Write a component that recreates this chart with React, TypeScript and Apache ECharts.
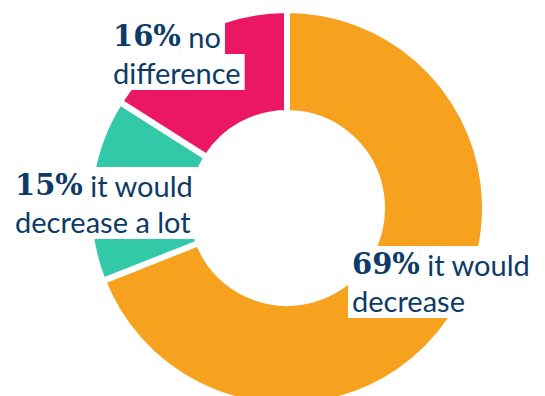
import React, { useEffect, useRef } from "react";
import * as echarts from "echarts";

const categories = ["it would decrease", "it would decrease a lot", "no difference"];
const values = [69, 15, 16];
const labelLine1 = ["it would", "it would", "no"];
const labelLine2 = ["decrease", "decrease a lot", "difference"];
const colors = ["#f7a21e", "#31c9a7", "#ec1763"];
const labelPos = [
  [348, 246],
  [11, 167],
  [109, 18],
];

export default function App() {
  const ref = useRef<HTMLDivElement>(null);
  useEffect(() => {
    if (!ref.current) return;
    const chart = echarts.init(ref.current, null, { renderer: "svg" });
    const navy = "#0d3b68";
    const base = {
      fontFamily: "Lato",
      fontSize: 29,
      color: navy,
      backgroundColor: "#ffffff",
      lineHeight: 36,
      height: 36,
    };
    chart.setOption({
      animation: false,
      backgroundColor: "#ffffff",
      series: [
        {
          type: "pie",
          center: [287, 208],
          radius: [95, 198],
          startAngle: 90,
          clockwise: true,
          avoidLabelOverlap: false,
          itemStyle: { borderColor: "#ffffff", borderWidth: 6 },
          labelLine: { show: false },
          label: {
            show: true,
            position: "outside",
            formatter: (p: any) =>
              `{b|${p.value}%}{n| ${labelLine1[p.dataIndex]}}\n{m|${labelLine2[p.dataIndex]}}`,
            rich: {
              b: {
                ...base,
                fontFamily: "DejaVu Serif",
                fontWeight: 900,
                fontSize: 29,
                padding: [0, 0, 0, 4],
              },
              n: { ...base, padding: [0, 4, 0, 0] },
              m: { ...base, padding: [0, 4, 0, 4] },
            },
          },
          labelLayout: (p: any) => ({
            x: labelPos[p.dataIndex][0],
            y: labelPos[p.dataIndex][1],
            align: "left",
            verticalAlign: "top",
          }),
          data: categories.map((c, i) => ({
            name: c,
            value: values[i],
            itemStyle: { color: colors[i] },
          })),
        },
      ],
    });
    return () => chart.dispose();
  }, []);
  return (
    <div
      ref={ref}
      style={{ position: "absolute", left: 0, top: 0, width: 545, height: 396 }}
    />
  );
}
